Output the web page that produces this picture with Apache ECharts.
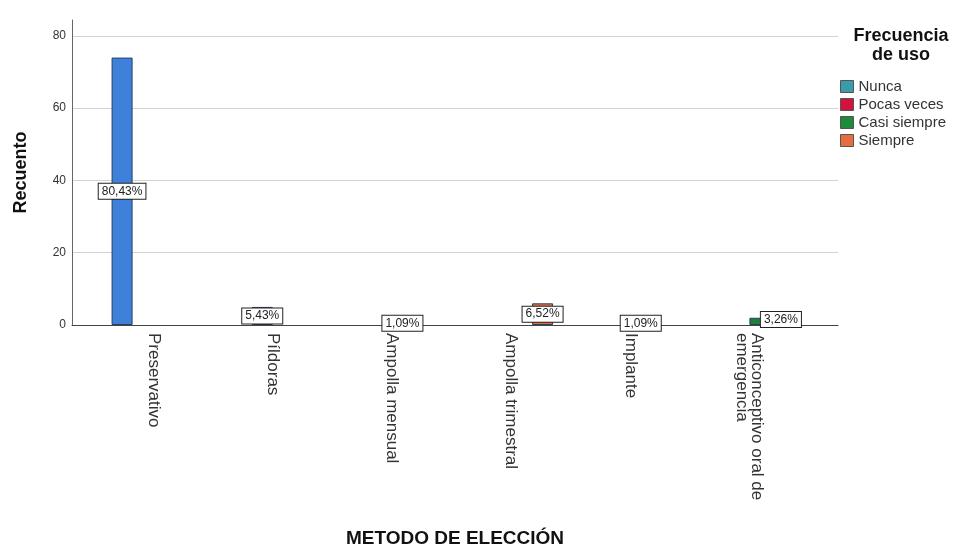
<!DOCTYPE html>
<html><head><meta charset="utf-8">
<script src="https://cdn.jsdelivr.net/npm/echarts@6/dist/echarts.min.js"></script>
<style>html,body{margin:0;padding:0;background:#fff}#c{width:965px;height:548px}</style>
</head><body><div id="c"></div>
<script>
// ---- data ----
const categories = ['Preservativo', 'Píldoras', 'Ampolla mensual', 'Ampolla trimestral', 'Implante', 'Anticonceptivo oral de\nemergencia'];
const seriesNames = ['Nunca', 'Pocas veces', 'Casi siempre', 'Siempre'];
const nunca       = [74, 0, 0, 0, 0, 0];
const pocasVeces  = [0, 5, 0, 0, 0, 0];
const casiSiempre = [0, 0, 1, 0, 1, 2];
const siempre     = [0, 0, 0, 6, 0, 3];
const total = 92;
const yTicks = [0, 20, 40, 60, 80];
const yMax = 84.4;
// labels hidden behind others in the original (series index, category index)
const hiddenLabels = [[2, 5]];

// ---- styling ----
const FONT = 'Liberation Sans, Arial, sans-serif';
const barColors = ['#3f80db', '#d2143c', '#1f7f3a', '#e56d3f'];
const legendColors = ['#3a9cab', '#d2143c', '#1f8a3c', '#e56d3f'];
const values = [nunca, pocasVeces, casiSiempre, siempre];

const chart = echarts.init(document.getElementById('c'), null, {renderer: 'canvas'});

const series = values.map((vals, i) => ({
  name: seriesNames[i],
  type: 'bar',
  xAxisIndex: 0,
  yAxisIndex: 0,
  barWidth: 21,
  barGap: '0%',
  itemStyle: {color: barColors[i], borderColor: '#2a3f5f', borderWidth: 1},
  label: {
    show: true,
    position: 'inside',
    formatter: p => (p.value / total * 100).toFixed(2).replace('.', ',') + '%',
    backgroundColor: '#fff',
    borderColor: '#222',
    borderWidth: 1,
    padding: [2, 3, 1, 3],
    fontSize: 12,
    fontFamily: FONT,
    color: '#222'
  },
  data: vals.map((v, j) => ({
    value: v > 0 ? v : '-',
    label: {show: v > 0 && !hiddenLabels.some(h => h[0] === i && h[1] === j)}
  }))
}));

const option = {
  backgroundColor: '#fff',
  animation: false,
  grid: [
    {left: 94, width: 715, top: 20, bottom: 223, outerBoundsMode: 'none', containLabel: false},
    {left: 72, width: 766, top: 20, bottom: 223, outerBoundsMode: 'none', containLabel: false}
  ],
  xAxis: [
    {
      type: 'category', gridIndex: 0, data: categories,
      axisLine: {show: false}, axisTick: {show: false},
      axisLabel: {rotate: -90, margin: 8, fontSize: 17, lineHeight: 15, color: '#333', fontFamily: FONT, interval: 0}
    },
    {
      type: 'value', gridIndex: 1, min: 0, max: 1,
      axisLine: {show: true, lineStyle: {color: '#444', width: 1}},
      axisTick: {show: false}, axisLabel: {show: false}, splitLine: {show: false},
      name: 'METODO DE ELECCIÓN', nameLocation: 'middle', nameGap: 204,
      nameTextStyle: {fontSize: 19, fontWeight: 'bold', color: '#111', fontFamily: FONT}
    }
  ],
  yAxis: [
    {type: 'value', gridIndex: 0, min: 0, max: yMax, interval: 20, show: false},
    {
      type: 'value', gridIndex: 1, min: 0, max: yMax, interval: 20,
      axisLine: {show: true, lineStyle: {color: '#666', width: 1}},
      axisTick: {show: false},
      axisLabel: {
        formatter: v => yTicks.includes(v) ? String(v) : '',
        showMaxLabel: false,
        fontSize: 12, color: '#333', margin: 6, fontFamily: FONT
      },
      splitLine: {show: true, lineStyle: {color: ['#d2d2d2', '#d2d2d2', '#d2d2d2', '#d2d2d2', '#d2d2d2', 'rgba(0,0,0,0)'], width: 1}},
      name: 'Recuento', nameLocation: 'middle', nameGap: 42, nameRotate: 90,
      nameTextStyle: {fontSize: 18, fontWeight: 'bold', color: '#111', fontFamily: FONT}
    }
  ],
  legend: {
    orient: 'vertical', left: 835, top: 74,
    itemWidth: 13, itemHeight: 12, itemGap: 3, icon: 'rect',
    textStyle: {fontSize: 15, color: '#333', fontFamily: FONT},
    data: seriesNames.map((n, i) => ({name: n, itemStyle: {color: legendColors[i], borderColor: '#555', borderWidth: 1}}))
  },
  graphic: [{
    type: 'text', x: 901, y: 27,
    style: {text: 'Frecuencia\nde uso', textAlign: 'center', font: 'bold 18px ' + FONT, lineHeight: 19, fill: '#111'}
  }],
  series: series
};
chart.setOption(option);
</script></body></html>
